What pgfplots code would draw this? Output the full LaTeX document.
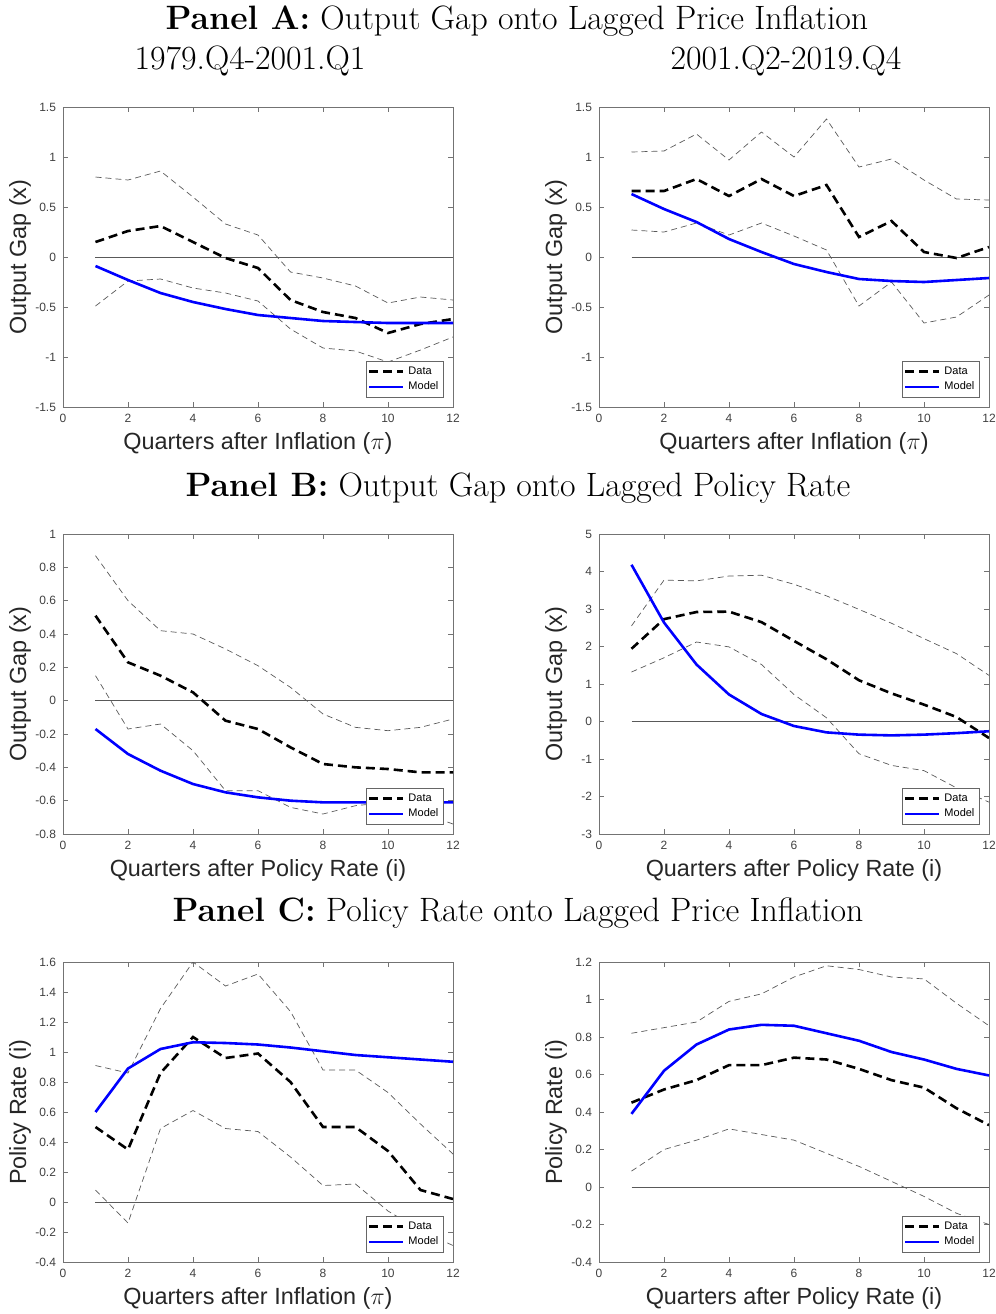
\documentclass[border=0pt]{standalone}
\usepackage{pgfplots}
\pgfplotsset{compat=1.18}
\usepackage{fontspec}
\newfontfamily\arial{Liberation Sans}

\pgfplotsset{
  irf/.style={
    scale only axis, width=195pt, height=150pt,
    anchor=south west,
    xmin=0, xmax=12, xtick={0,2,4,6,8,10,12},
    axis line style={black!55, line width=0.35pt},
    every tick/.style={black!55, line width=0.35pt},
    tick align=inside, major tick length=2.5pt,
    tick label style={font=\arial\fontsize{6}{7}\selectfont, text=black!75},
    /pgf/number format/assume math mode=true,
    yticklabel style={/pgf/number format/fixed, /pgf/number format/precision=1},
    label style={font=\arial\fontsize{11.7}{13}\selectfont, text=black!85},
    xlabel style={at={(axis description cs:0.5,-0.12)}, anchor=center},
    ylabel style={at={(axis description cs:-0.11,0.5)}, anchor=center},
    legend style={at={(0.977,0.03)}, anchor=south east, draw=black!60,
      font=\arial\fontsize{5.5}{6}\selectfont, inner sep=0.6pt, row sep=-1.8pt,
      fill=white},
    legend cell align=left,
    legend image code/.code={\draw[#1] (0pt,0pt) -- (17pt,0pt);},
  },
  band/.style={black!65, line width=0.35pt, dash pattern=on 3pt off 2pt, forget plot},
  zline/.style={black!65, line width=0.5pt, forget plot},
  dat/.style={black, line width=1.3pt, dash pattern=on 4.5pt off 2.5pt},
  mod/.style={blue, line width=1.3pt},
}
\tikzset{ttl/.style={anchor=base, font=\fontsize{16.9}{20}\selectfont}}

\begin{document}
\begin{tikzpicture}
\useasboundingbox (0pt,0pt) rectangle (498pt,-657pt);

\node[ttl] at (258.5pt,-14.7pt) {\textbf{Panel A:} Output Gap onto Lagged Price Inflation};
\node[ttl] at (125pt,-34.5pt) {1979.Q4-2001.Q1};
\node[ttl] at (393pt,-34.5pt) {2001.Q2-2019.Q4};
\node[ttl] at (259pt,-248pt) {\textbf{Panel B:} Output Gap onto Lagged Policy Rate};
\node[ttl] at (259pt,-460.5pt) {\textbf{Panel C:} Policy Rate onto Lagged Price Inflation};

% Panel A, left
\begin{axis}[irf, at={(31.5pt,-203.5pt)},
  ymin=-1.5, ymax=1.5, ytick={-1.5,-1,-0.5,0,0.5,1,1.5},
  xlabel={Quarters after Inflation ($\pi$)}, ylabel={Output Gap (x)}]
\addplot[band] coordinates {(1,0.80)(2,0.77)(3,0.86)(4,0.60)(5,0.33)(6,0.22)(7,-0.15)(8,-0.21)(9,-0.29)(10,-0.46)(11,-0.40)(12,-0.43)};
\addplot[band] coordinates {(1,-0.49)(2,-0.24)(3,-0.22)(4,-0.31)(5,-0.36)(6,-0.44)(7,-0.72)(8,-0.91)(9,-0.94)(10,-1.05)(11,-0.93)(12,-0.80)};
\addplot[zline] coordinates {(1,0)(12,0)};
\addplot[dat] coordinates {(1,0.15)(2,0.26)(3,0.31)(4,0.15)(5,-0.01)(6,-0.11)(7,-0.43)(8,-0.55)(9,-0.61)(10,-0.76)(11,-0.67)(12,-0.62)};
\addplot[mod] coordinates {(1,-0.09)(2,-0.23)(3,-0.36)(4,-0.45)(5,-0.52)(6,-0.58)(7,-0.61)(8,-0.64)(9,-0.65)(10,-0.66)(11,-0.66)(12,-0.66)};
\legend{Data,Model}
\end{axis}

% Panel A, right
\begin{axis}[irf, at={(299.5pt,-203.5pt)},
  ymin=-1.5, ymax=1.5, ytick={-1.5,-1,-0.5,0,0.5,1,1.5},
  xlabel={Quarters after Inflation ($\pi$)}, ylabel={Output Gap (x)}]
\addplot[band] coordinates {(1,1.05)(2,1.06)(3,1.23)(4,0.97)(5,1.25)(6,1.00)(7,1.38)(8,0.90)(9,0.98)(10,0.77)(11,0.58)(12,0.57)};
\addplot[band] coordinates {(1,0.27)(2,0.25)(3,0.34)(4,0.22)(5,0.34)(6,0.21)(7,0.07)(8,-0.49)(9,-0.25)(10,-0.66)(11,-0.60)(12,-0.38)};
\addplot[zline] coordinates {(1,0)(12,0)};
\addplot[dat] coordinates {(1,0.66)(2,0.66)(3,0.78)(4,0.61)(5,0.78)(6,0.61)(7,0.72)(8,0.20)(9,0.36)(10,0.05)(11,-0.01)(12,0.10)};
\addplot[mod] coordinates {(1,0.63)(2,0.48)(3,0.35)(4,0.18)(5,0.05)(6,-0.07)(7,-0.15)(8,-0.22)(9,-0.24)(10,-0.25)(11,-0.23)(12,-0.21)};
\legend{Data,Model}
\end{axis}

% Panel B, left
\begin{axis}[irf, at={(31.5pt,-417pt)},
  ymin=-0.8, ymax=1, ytick={-0.8,-0.6,-0.4,-0.2,0,0.2,0.4,0.6,0.8,1},
  xlabel={Quarters after Policy Rate (i)}, ylabel={Output Gap (x)}]
\addplot[band] coordinates {(1,0.87)(2,0.60)(3,0.42)(4,0.40)(5,0.31)(6,0.21)(7,0.08)(8,-0.08)(9,-0.16)(10,-0.18)(11,-0.16)(12,-0.11)};
\addplot[band] coordinates {(1,0.15)(2,-0.17)(3,-0.14)(4,-0.30)(5,-0.54)(6,-0.54)(7,-0.64)(8,-0.68)(9,-0.63)(10,-0.61)(11,-0.67)(12,-0.74)};
\addplot[zline] coordinates {(1,0)(12,0)};
\addplot[dat] coordinates {(1,0.51)(2,0.23)(3,0.15)(4,0.05)(5,-0.12)(6,-0.17)(7,-0.28)(8,-0.38)(9,-0.40)(10,-0.41)(11,-0.43)(12,-0.43)};
\addplot[mod] coordinates {(1,-0.17)(2,-0.32)(3,-0.42)(4,-0.50)(5,-0.55)(6,-0.58)(7,-0.60)(8,-0.61)(9,-0.61)(10,-0.61)(11,-0.61)(12,-0.61)};
\legend{Data,Model}
\end{axis}

% Panel B, right
\begin{axis}[irf, at={(299.5pt,-417pt)},
  ymin=-3, ymax=5, ytick={-3,-2,-1,0,1,2,3,4,5},
  xlabel={Quarters after Policy Rate (i)}, ylabel={Output Gap (x)}]
\addplot[band] coordinates {(1,2.55)(2,3.77)(3,3.75)(4,3.88)(5,3.90)(6,3.66)(7,3.35)(8,2.99)(9,2.62)(10,2.21)(11,1.81)(12,1.23)};
\addplot[band] coordinates {(1,1.32)(2,1.70)(3,2.12)(4,1.99)(5,1.52)(6,0.72)(7,0.10)(8,-0.86)(9,-1.17)(10,-1.31)(11,-1.77)(12,-2.15)};
\addplot[zline] coordinates {(1,0)(12,0)};
\addplot[dat] coordinates {(1,1.94)(2,2.73)(3,2.92)(4,2.93)(5,2.65)(6,2.15)(7,1.66)(8,1.10)(9,0.75)(10,0.45)(11,0.12)(12,-0.44)};
\addplot[mod] coordinates {(1,4.18)(2,2.64)(3,1.52)(4,0.72)(5,0.20)(6,-0.12)(7,-0.29)(8,-0.35)(9,-0.37)(10,-0.35)(11,-0.31)(12,-0.26)};
\legend{Data,Model}
\end{axis}

% Panel C, left
\begin{axis}[irf, at={(31.5pt,-631pt)},
  ymin=-0.4, ymax=1.6, ytick={-0.4,-0.2,0,0.2,0.4,0.6,0.8,1,1.2,1.4,1.6},
  xlabel={Quarters after Inflation ($\pi$)}, ylabel={Policy Rate (i)}]
\addplot[band] coordinates {(1,0.91)(2,0.86)(3,1.29)(4,1.60)(5,1.44)(6,1.52)(7,1.27)(8,0.88)(9,0.88)(10,0.73)(11,0.52)(12,0.32)};
\addplot[band] coordinates {(1,0.08)(2,-0.14)(3,0.49)(4,0.61)(5,0.49)(6,0.47)(7,0.30)(8,0.11)(9,0.12)(10,-0.06)(11,-0.19)(12,-0.29)};
\addplot[zline] coordinates {(1,0)(12,0)};
\addplot[dat] coordinates {(1,0.50)(2,0.35)(3,0.86)(4,1.10)(5,0.96)(6,0.99)(7,0.80)(8,0.50)(9,0.50)(10,0.34)(11,0.08)(12,0.02)};
\addplot[mod] coordinates {(1,0.60)(2,0.89)(3,1.02)(4,1.065)(5,1.06)(6,1.05)(7,1.03)(8,1.005)(9,0.98)(10,0.965)(11,0.95)(12,0.935)};
\legend{Data,Model}
\end{axis}

% Panel C, right
\begin{axis}[irf, at={(299.5pt,-631pt)},
  ymin=-0.4, ymax=1.2, ytick={-0.4,-0.2,0,0.2,0.4,0.6,0.8,1,1.2},
  xlabel={Quarters after Policy Rate (i)}, ylabel={Policy Rate (i)}]
\addplot[band] coordinates {(1,0.82)(2,0.85)(3,0.88)(4,0.99)(5,1.03)(6,1.12)(7,1.18)(8,1.16)(9,1.12)(10,1.11)(11,0.98)(12,0.86)};
\addplot[band] coordinates {(1,0.085)(2,0.20)(3,0.25)(4,0.31)(5,0.28)(6,0.25)(7,0.18)(8,0.11)(9,0.03)(10,-0.05)(11,-0.14)(12,-0.20)};
\addplot[zline] coordinates {(1,0)(12,0)};
\addplot[dat] coordinates {(1,0.45)(2,0.52)(3,0.57)(4,0.65)(5,0.65)(6,0.69)(7,0.68)(8,0.63)(9,0.57)(10,0.53)(11,0.42)(12,0.33)};
\addplot[mod] coordinates {(1,0.39)(2,0.62)(3,0.76)(4,0.84)(5,0.865)(6,0.86)(7,0.82)(8,0.78)(9,0.72)(10,0.68)(11,0.63)(12,0.595)};
\legend{Data,Model}
\end{axis}
\end{tikzpicture}
\end{document}
